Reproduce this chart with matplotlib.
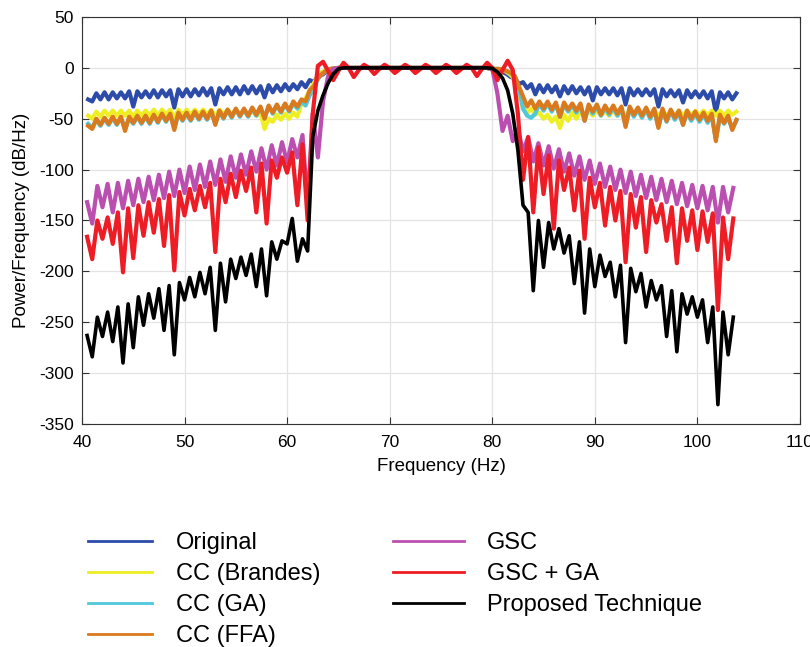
import matplotlib
matplotlib.use('Agg')
import matplotlib.pyplot as plt
from matplotlib.lines import Line2D

#### DATA ####
# frequency samples for the four "CC"/original curves (ripple ~0.8 Hz)
freq_fine = [40.6, 41.0, 41.4, 41.8, 42.2, 42.6, 43.0, 43.4, 43.8, 44.2,
             44.6, 45.0, 45.4, 45.8, 46.2, 46.6, 47.0, 47.4, 47.8, 48.2,
             48.6, 49.0, 49.4, 49.8, 50.2, 50.6, 51.0, 51.4, 51.8, 52.2,
             52.6, 53.0, 53.4, 53.8, 54.2, 54.6, 55.0, 55.4, 55.8, 56.2,
             56.6, 57.0, 57.4, 57.8, 58.2, 58.6, 59.0, 59.4, 59.8, 60.2,
             60.6, 61.0, 61.4, 61.8, 62.2, 62.6, 63.0, 63.4, 63.8, 64.2,
             64.6, 65.0, 65.4, 65.8, 66.2, 66.6, 67.0, 67.4, 67.8, 68.2,
             68.6, 69.0, 69.4, 69.8, 70.2, 70.6, 71.0, 71.4, 71.8, 72.2,
             72.6, 73.0, 73.4, 73.8, 74.2, 74.6, 75.0, 75.4, 75.8, 76.2,
             76.6, 77.0, 77.4, 77.8, 78.2, 78.6, 79.0, 79.4, 79.8, 80.2,
             80.6, 81.0, 81.4, 81.8, 82.2, 82.6, 83.0, 83.4, 83.8, 84.2,
             84.6, 85.0, 85.4, 85.8, 86.2, 86.6, 87.0, 87.4, 87.8, 88.2,
             88.6, 89.0, 89.4, 89.8, 90.2, 90.6, 91.0, 91.4, 91.8, 92.2,
             92.6, 93.0, 93.4, 93.8, 94.2, 94.6, 95.0, 95.4, 95.8, 96.2,
             96.6, 97.0, 97.4, 97.8, 98.2, 98.6, 99.0, 99.4, 99.8, 100.2,
             100.6, 101.0, 101.4, 101.8, 102.2, 102.6, 103.0, 103.4, 103.8]

# frequency samples for GSC / GSC+GA / proposed (ripple ~1 Hz)
freq_coarse = [40.5, 41.0, 41.5, 42.0, 42.5, 43.0, 43.5, 44.0, 44.5, 45.0,
               45.5, 46.0, 46.5, 47.0, 47.5, 48.0, 48.5, 49.0, 49.5, 50.0,
               50.5, 51.0, 51.5, 52.0, 52.5, 53.0, 53.5, 54.0, 54.5, 55.0,
               55.5, 56.0, 56.5, 57.0, 57.5, 58.0, 58.5, 59.0, 59.5, 60.0,
               60.5, 61.0, 61.5, 62.0, 62.5, 63.0, 63.5, 64.0, 64.5, 65.0,
               65.5, 66.0, 66.5, 67.0, 67.5, 68.0, 68.5, 69.0, 69.5, 70.0,
               70.5, 71.0, 71.5, 72.0, 72.5, 73.0, 73.5, 74.0, 74.5, 75.0,
               75.5, 76.0, 76.5, 77.0, 77.5, 78.0, 78.5, 79.0, 79.5, 80.0,
               80.5, 81.0, 81.5, 82.0, 82.5, 83.0, 83.5, 84.0, 84.5, 85.0,
               85.5, 86.0, 86.5, 87.0, 87.5, 88.0, 88.5, 89.0, 89.5, 90.0,
               90.5, 91.0, 91.5, 92.0, 92.5, 93.0, 93.5, 94.0, 94.5, 95.0,
               95.5, 96.0, 96.5, 97.0, 97.5, 98.0, 98.5, 99.0, 99.5, 100.0,
               100.5, 101.0, 101.5, 102.0, 102.5, 103.0, 103.5]

original = [-31, -33, -25, -31, -24, -31, -24, -30, -24, -30,
            -23, -38, -23, -29, -23, -29, -22, -29, -22, -28,
            -22, -39, -21, -28, -21, -28, -21, -27, -20, -27,
            -20, -36, -20, -26, -19, -26, -19, -26, -18, -25,
            -18, -25, -18, -29, -17, -24, -17, -23, -16, -22,
            -16, -21, -14, -19, -12, -14, -8, -7, -4, -2,
            -1, 0, 0, 0, 0, 0, 0, 0, 0, 0,
            0, 0, 0, 0, 0, 0, 0, 0, 0, 0,
            0, 0, 0, 0, 0, 0, 0, 0, 0, 0,
            0, 0, 0, 0, 0, 0, 0, 0, -0.5, -1,
            -2, -4, -6, -9, -10, -16, -14, -20, -16, -26,
            -17, -24, -17, -24, -18, -28, -18, -25, -18, -25,
            -19, -26, -19, -32, -19, -26, -20, -26, -20, -27,
            -20, -36, -20, -27, -21, -27, -21, -27, -21, -38,
            -21, -28, -22, -28, -22, -34, -22, -29, -23, -29,
            -23, -30, -23, -44, -24, -30, -24, -31, -25]

cc_brandes = [-47, -50, -43, -48, -42, -47, -42, -47, -42, -47,
              -42, -48, -42, -47, -42, -47, -41, -47, -41, -46,
              -41, -49, -41, -46, -41, -46, -41, -46, -41, -46,
              -41, -48, -41, -46, -41, -46, -41, -46, -42, -47,
              -42, -47, -44, -60, -50, -53, -46, -51, -45, -50,
              -44, -48, -35, -30, -22, -15, -8, -4, -2, -1,
              -0.5, 0, 0, 0, 0, 0, 0, 0, 0, 0,
              0, 0, 0, 0, 0, 0, 0, 0, 0, 0,
              0, 0, 0, 0, 0, 0, 0, 0, 0, 0,
              0, 0, 0, 0, 0, 0, 0, 0, -0.5, -1,
              -1, -2, -4, -7, -12, -25, -40, -44, -40, -46,
              -44, -50, -46, -53, -48, -59, -46, -52, -44, -50,
              -43, -48, -42, -47, -42, -47, -42, -47, -42, -47,
              -42, -47, -42, -47, -42, -47, -42, -47, -42, -47,
              -42, -47, -42, -47, -42, -47, -42, -47, -42, -47,
              -42, -47, -42, -47, -42, -47, -42, -46, -43]

cc_ga = [-55, -59, -51, -57, -50, -56, -49, -56, -49, -60,
         -49, -55, -48, -55, -48, -55, -47, -54, -46, -53,
         -46, -59, -45, -52, -45, -52, -44, -51, -44, -51,
         -43, -55, -43, -50, -42, -49, -41, -48, -41, -48,
         -40, -47, -39, -49, -38, -45, -37, -44, -36, -43,
         -35, -40, -33, -37, -27, -20, -11, -6, -3, -1,
         -0.5, 0, 0, 0, 0, 0, 0, 0, 0, 0,
         0, 0, 0, 0, 0, 0, 0, 0, 0, 0,
         0, 0, 0, 0, 0, 0, 0, 0, 0, 0,
         0, 0, 0, 0, 0, 0, 0, 0, -0.5, -1,
         -1, -2, -3, -5, -8, -20, -40, -47, -49, -45,
         -35, -42, -35, -43, -36, -48, -36, -43, -37, -44,
         -37, -52, -38, -45, -38, -47, -39, -46, -39, -47,
         -40, -57, -40, -48, -41, -49, -41, -50, -42, -58,
         -42, -53, -43, -51, -44, -56, -44, -52, -45, -53,
         -46, -54, -47, -70, -48, -55, -49, -60, -52]

cc_ffa = [-57, -60, -50, -56, -49, -55, -48, -55, -48, -62,
          -48, -54, -47, -54, -47, -54, -46, -53, -45, -52,
          -45, -61, -44, -51, -44, -51, -43, -50, -43, -50,
          -42, -56, -42, -49, -41, -48, -40, -47, -40, -47,
          -39, -46, -38, -50, -37, -44, -36, -43, -35, -42,
          -33, -38, -31, -33, -22, -18, -10, -6, -3, -1,
          -0.5, 0, 0, 0, 0, 0, 0, 0, 0, 0,
          0, 0, 0, 0, 0, 0, 0, 0, 0, 0,
          0, 0, 0, 0, 0, 0, 0, 0, 0, 0,
          0, 0, 0, 0, 0, 0, 0, 0, -0.5, -1,
          -1, -2, -3, -5, -8, -18, -28, -38, -32, -40,
          -33, -40, -33, -41, -34, -48, -34, -41, -35, -42,
          -35, -52, -36, -43, -36, -46, -37, -44, -37, -45,
          -38, -58, -38, -46, -39, -47, -39, -48, -40, -59,
          -40, -52, -41, -49, -42, -56, -42, -50, -43, -51,
          -44, -52, -45, -72, -46, -54, -47, -61, -51]

gsc = [-132, -153, -116, -137, -114, -142, -113, -138, -111, -135,
       -109, -132, -107, -130, -105, -128, -102, -126, -100, -123,
       -97, -120, -95, -117, -92, -115, -90, -112, -87, -108,
       -85, -105, -82, -102, -79, -100, -76, -96, -73, -93,
       -70, -88, -66, -135, -45, -88, -33, -8, -1, 0,
       0, 0, 0, 0, 0, 0, 0, 0, 0, 0,
       0, 0, 0, 0, 0, 0, 0, 0, 0, 0,
       0, 0, 0, 0, 0, 0, 0, 0, 0, -1,
       -25, -62, -47, -72, -60, -82, -68, -92, -74, -96,
       -77, -99, -80, -102, -84, -106, -87, -110, -91, -114,
       -94, -117, -97, -120, -100, -123, -102, -126, -105, -128,
       -107, -130, -109, -132, -111, -134, -113, -136, -115, -138,
       -116, -140, -117, -152, -117, -142, -118]

gsc_ga = [-166, -188, -150, -168, -147, -173, -142, -201, -138, -187,
          -135, -165, -132, -162, -129, -175, -125, -199, -122, -145,
          -119, -140, -116, -137, -113, -181, -109, -132, -104, -127,
          -101, -121, -98, -142, -94, -153, -91, -108, -88, -103,
          -83, -135, -75, -150, -45, 2, 6, -3, -12, -3,
          5, 0, -9, -2, 3, 0, -6, -1, 3, 0,
          -5, -1, 3, 0, -5, -1, 3, 0, -5, -1,
          3, 0, -5, -1, 3, 0, -8, -1, 5, 0,
          -12, -2, 7, -2, -45, -110, -68, -142, -78, -124,
          -86, -158, -91, -120, -98, -140, -101, -168, -108, -137,
          -113, -155, -117, -150, -121, -191, -124, -157, -127, -181,
          -130, -152, -134, -170, -137, -192, -138, -170, -140, -179,
          -141, -171, -143, -238, -147, -188, -148]

proposed = [-263, -284, -245, -264, -240, -269, -235, -290, -232, -275,
            -225, -253, -222, -246, -217, -258, -214, -282, -211, -228,
            -206, -225, -201, -222, -196, -258, -192, -230, -188, -207,
            -186, -204, -183, -215, -178, -224, -171, -188, -170, -173,
            -148, -190, -168, -180, -68, -42, -27, -15, -6, -1,
            0, 0, 0, 0, 0, 0, 0, 0, 0, 0,
            0, 0, 0, 0, 0, 0, 0, 0, 0, 0,
            0, 0, 0, 0, 0, 0, 0, 0, 0, -0.5,
            -4, -10, -22, -45, -81, -135, -142, -219, -150, -196,
            -152, -178, -158, -182, -165, -212, -171, -241, -178, -215,
            -184, -205, -191, -225, -194, -270, -197, -220, -202, -235,
            -209, -228, -214, -264, -219, -279, -222, -242, -225, -245,
            -228, -270, -235, -331, -240, -282, -245]

series_names = ['Original', 'CC (Brandes)', 'CC (GA)', 'CC (FFA)',
                'GSC', 'GSC + GA', 'Proposed Technique']
series_colors = ['#2d4caa', '#eeee22', '#4fc8dc', '#d97a1f',
                 '#bb4fb0', '#ee1c25', '#000000']
series_widths = [3.0, 3.0, 3.0, 3.0, 3.0, 3.0, 2.6]

#### PLOT ####
plt.rcParams['font.family'] = ['Liberation Sans', 'DejaVu Sans']
plt.rcParams['axes.unicode_minus'] = False  # plain hyphen like the original

f = plt.figure(figsize=(8.1, 6.47), dpi=100)
ax = f.add_axes([0.1012, 0.3447, 0.8864, 0.629])

curves = [(freq_fine, original), (freq_fine, cc_brandes), (freq_fine, cc_ga),
          (freq_fine, cc_ffa), (freq_coarse, gsc), (freq_coarse, gsc_ga),
          (freq_coarse, proposed)]
for (x, y), c, w in zip(curves, series_colors, series_widths):
    ax.plot(x, y, color=c, linewidth=w, solid_joinstyle='round')

ax.set_xlim(40, 110)
ax.set_ylim(-350, 50)
ax.set_xticks(range(40, 111, 10))
ax.set_yticks(range(-350, 51, 50))
ax.grid(True, color='#e3e3e3', linewidth=0.9)
ax.set_axisbelow(True)
ax.tick_params(direction='in', top=True, right=True, labelsize=12.5,
               length=5, color='#333333')
ax.tick_params(axis='x', pad=8)
ax.tick_params(axis='y', pad=6)
for s in ax.spines.values():
    s.set_color('#333333')
    s.set_linewidth(0.8)
ax.set_xlabel('Frequency (Hz)', fontsize=13.5, labelpad=6)
ax.set_ylabel('Power/Frequency (dB/Hz)', fontsize=13.5, labelpad=6)

# legend in two columns below the axes
handles = [Line2D([], [], color=c, linewidth=2) for c in series_colors]
leg_kw = dict(loc='upper left', frameon=False, fontsize=17,
              handletextpad=1.0, labelspacing=0.39, borderpad=0, borderaxespad=0)
f.legend(handles[:4], series_names[:4], bbox_to_anchor=(0.109, 0.178),
         handlelength=2.7, **leg_kw)
f.legend(handles[4:], series_names[4:], bbox_to_anchor=(0.485, 0.178),
         handlelength=3.0, **leg_kw)

f.savefig('out.png', dpi=100)
